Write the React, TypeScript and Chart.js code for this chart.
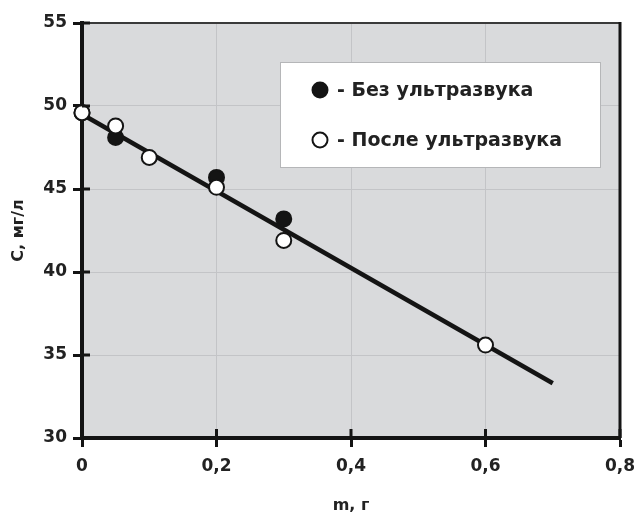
import React, { useEffect, useRef } from "react";
import { Chart, registerables } from "chart.js";

Chart.register(...registerables);

// Data
const withoutUltrasoundX = [0, 0.05, 0.2, 0.3];
const withoutUltrasoundY = [49.6, 48.1, 45.7, 43.2];
const afterUltrasoundX = [0, 0.05, 0.1, 0.2, 0.3, 0.6];
const afterUltrasoundY = [49.6, 48.8, 46.9, 45.1, 41.9, 35.6];
const fitX = [0, 0.7];
const fitY = [49.5, 33.3];
const seriesLabels = ["Без ультразвука", "После ультразвука"];
const xTicks = [0, 0.2, 0.4, 0.6, 0.8];
const yTicks = [30, 35, 40, 45, 50, 55];
const xTitle = "m, г";
const yTitle = "С, мг/л";

const INK = "#141414";
const TEXT = "#222222";
const PLOT_BG = "#d9dadc";
const GRID = "#c3c4c7";
const FAMILY = "'DejaVu Sans', 'Liberation Sans', Arial, sans-serif";

const toPts = (xs: number[], ys: number[]) => xs.map((x, i) => ({ x, y: ys[i] }));

const decoPlugin = {
  id: "deco",
  beforeDraw(chart: any) {
    const { ctx, chartArea: a } = chart;
    ctx.save();
    ctx.fillStyle = PLOT_BG;
    ctx.fillRect(a.left, a.top, a.right - a.left, a.bottom - a.top);
    ctx.restore();
  },
  afterDraw(chart: any) {
    const { ctx, chartArea: a, scales } = chart;
    ctx.save();
    // top and right frame
    ctx.strokeStyle = "#3a3a3a";
    ctx.lineWidth = 2;
    ctx.beginPath();
    ctx.moveTo(a.left, a.top);
    ctx.lineTo(a.right, a.top);
    ctx.stroke();
    ctx.strokeStyle = INK;
    ctx.lineWidth = 3;
    ctx.beginPath();
    ctx.moveTo(a.right, a.top - 1);
    ctx.lineTo(a.right, a.bottom);
    ctx.stroke();
    // inner halves of crossing ticks
    ctx.strokeStyle = INK;
    ctx.lineWidth = 3;
    scales.y.ticks.forEach((t: any) => {
      const py = scales.y.getPixelForValue(t.value);
      ctx.beginPath();
      ctx.moveTo(a.left, py);
      ctx.lineTo(a.left + 8, py);
      ctx.stroke();
    });
    scales.x.ticks.forEach((t: any) => {
      const px = scales.x.getPixelForValue(t.value);
      ctx.beginPath();
      ctx.moveTo(px, a.bottom);
      ctx.lineTo(px, a.bottom - 9);
      ctx.stroke();
    });
    // legend box
    const bx = 280, by = 62, bw = 320, bh = 105;
    ctx.fillStyle = "#ffffff";
    ctx.fillRect(bx, by, bw, bh);
    ctx.strokeStyle = "#b5b6b8";
    ctx.lineWidth = 1;
    ctx.strokeRect(bx + 0.5, by + 0.5, bw, bh);
    const rows = [
      { y: 90, filled: true, label: seriesLabels[0] },
      { y: 140, filled: false, label: seriesLabels[1] },
    ];
    ctx.font = "bold 19px " + FAMILY;
    ctx.textBaseline = "middle";
    ctx.textAlign = "left";
    rows.forEach((r) => {
      ctx.beginPath();
      ctx.arc(320, r.y, 7.5, 0, Math.PI * 2);
      ctx.fillStyle = r.filled ? INK : "#ffffff";
      ctx.fill();
      ctx.strokeStyle = INK;
      ctx.lineWidth = 2;
      ctx.stroke();
      ctx.fillStyle = TEXT;
      ctx.fillText("- " + r.label, 337, r.y + 1);
    });
    ctx.restore();
  },
};

export default function App() {
  const ref = useRef<HTMLCanvasElement | null>(null);

  useEffect(() => {
    document.body.style.margin = "0";
    const canvas = ref.current;
    if (!canvas) return;
    const tickFont = { family: FAMILY, size: 17, weight: "bold" as const };
    const titleFont = { family: FAMILY, size: 16, weight: "bold" as const, lineHeight: 1 };
    const chart = new Chart(canvas, {
      type: "scatter",
      data: {
        datasets: [
          {
            label: seriesLabels[1],
            data: toPts(afterUltrasoundX, afterUltrasoundY),
            pointRadius: 7.5,
            pointBackgroundColor: "#ffffff",
            pointBorderColor: INK,
            pointBorderWidth: 2,
            clip: false,
            order: 0,
          },
          {
            label: seriesLabels[0],
            data: toPts(withoutUltrasoundX, withoutUltrasoundY),
            pointRadius: 7.5,
            pointBackgroundColor: INK,
            pointBorderColor: INK,
            pointBorderWidth: 2,
            clip: false,
            order: 1,
          },
          {
            label: "fit",
            type: "line" as const,
            data: toPts(fitX, fitY),
            showLine: true,
            borderColor: INK,
            borderWidth: 4.5,
            pointRadius: 0,
            clip: false,
            order: 2,
          } as any,
        ],
      },
      options: {
        responsive: false,
        animation: false,
        devicePixelRatio: 1,
        layout: { padding: { top: 23, right: 17, left: 0, bottom: 0 } },
        plugins: { legend: { display: false }, tooltip: { enabled: false } },
        scales: {
          x: {
            type: "linear",
            min: 0,
            max: 0.8,
            afterBuildTicks: (s: any) => {
              s.ticks = xTicks.map((v) => ({ value: v }));
            },
            afterFit: (s: any) => {
              s.height = 78;
              s.paddingLeft = 0;
              s.paddingRight = 0;
            },
            ticks: {
              font: tickFont,
              color: TEXT,
              padding: 9,
              callback: (v: any) => (v === 0 ? "0" : Number(v).toFixed(1).replace(".", ",")),
            },
            grid: {
              color: (c: any) => (c.tick && (c.tick.value === 0 || c.tick.value === 0.8) ? "rgba(0,0,0,0)" : GRID),
              lineWidth: 1,
              drawTicks: true,
              tickLength: 9,
              tickWidth: 3,
              tickColor: INK,
            },
            border: { color: INK, width: 4 },
            title: { display: true, text: xTitle, font: titleFont, color: TEXT, padding: { top: 0, bottom: 2 } },
          },
          y: {
            type: "linear",
            min: 30,
            max: 55,
            afterBuildTicks: (s: any) => {
              s.ticks = yTicks.map((v) => ({ value: v }));
            },
            afterFit: (s: any) => {
              s.width = 82;
              s.paddingTop = 0;
              s.paddingBottom = 0;
            },
            ticks: { font: tickFont, color: TEXT, padding: 6 },
            grid: {
              color: (c: any) => (c.tick && (c.tick.value === 30 || c.tick.value === 55) ? "rgba(0,0,0,0)" : GRID),
              lineWidth: 1,
              drawTicks: true,
              tickLength: 9,
              tickWidth: 3,
              tickColor: INK,
            },
            border: { color: INK, width: 4 },
            title: { display: true, text: yTitle, font: titleFont, color: TEXT, padding: { top: 11, bottom: 0 } },
          },
        },
      },
      plugins: [decoPlugin],
    } as any);
    return () => chart.destroy();
  }, []);

  return (
    <div style={{ width: 637, height: 516, background: "#ffffff" }}>
      <canvas ref={ref} width={637} height={516} style={{ display: "block" }} />
    </div>
  );
}
